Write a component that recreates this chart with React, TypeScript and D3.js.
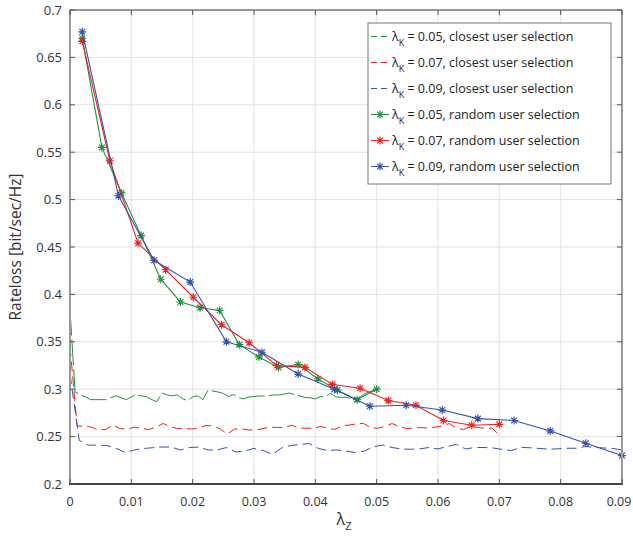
import React from 'react';
import * as d3 from 'd3';

// random user selection (solid, asterisk markers)
const xRand05 = [0.002, 0.0052, 0.0084, 0.0116, 0.0148, 0.018, 0.0212, 0.0244, 0.0276, 0.0308, 0.034, 0.0372, 0.0404, 0.0436, 0.0468, 0.05];
const yRand05 = [0.670, 0.555, 0.507, 0.462, 0.416, 0.392, 0.386, 0.383, 0.347, 0.334, 0.323, 0.326, 0.311, 0.299, 0.289, 0.300];
const xRand07 = [0.002, 0.0065, 0.0111, 0.0156, 0.0201, 0.0247, 0.0292, 0.0337, 0.0383, 0.0428, 0.0473, 0.0519, 0.0564, 0.0609, 0.0655, 0.07];
const yRand07 = [0.667, 0.541, 0.454, 0.426, 0.397, 0.368, 0.349, 0.325, 0.323, 0.305, 0.301, 0.288, 0.283, 0.267, 0.262, 0.263];
const xRand09 = [0.002, 0.0079, 0.0137, 0.0196, 0.0255, 0.0313, 0.0372, 0.0431, 0.0489, 0.0548, 0.0607, 0.0665, 0.0724, 0.0783, 0.0841, 0.09];
const yRand09 = [0.677, 0.504, 0.436, 0.413, 0.350, 0.339, 0.316, 0.300, 0.282, 0.283, 0.278, 0.269, 0.267, 0.256, 0.243, 0.230];

// closest user selection (dashed), 61 samples each from 0 to the max lambda_Z
const yClose05 = [
  0.384, 0.297, 0.294, 0.292, 0.289, 0.289, 0.289, 0.289, 0.291, 0.293, 0.291, 0.289, 0.292, 0.294, 0.293, 0.292,
  0.289, 0.287, 0.296, 0.294, 0.293, 0.294, 0.290, 0.288, 0.292, 0.293, 0.289, 0.299, 0.298, 0.297, 0.2955, 0.2923,
  0.2944, 0.291, 0.2897, 0.2918, 0.2923, 0.2928, 0.2928, 0.2934, 0.294, 0.294, 0.295, 0.296, 0.294, 0.2928, 0.2912,
  0.291, 0.2897, 0.2923, 0.2918, 0.296, 0.2918, 0.2915, 0.2915, 0.290, 0.2886, 0.2928, 0.296, 0.298, 0.300,
];
const yClose07 = [
  0.345, 0.261, 0.2612, 0.260, 0.257, 0.2575, 0.2622, 0.2585, 0.258, 0.260, 0.2585, 0.2575, 0.260, 0.2638, 0.2606, 0.2585,
  0.2585, 0.258, 0.259, 0.2617, 0.2612, 0.258, 0.2527, 0.258, 0.258, 0.257, 0.257, 0.2585, 0.260, 0.2596, 0.2596, 0.262,
  0.259, 0.2588, 0.2588, 0.2606, 0.259, 0.2575, 0.2612, 0.2622, 0.2633, 0.264, 0.2596, 0.2588, 0.2606, 0.2638, 0.2606,
  0.2585, 0.259, 0.2596, 0.259, 0.260, 0.2612, 0.2638, 0.259, 0.2575, 0.261, 0.2596, 0.2588, 0.2588, 0.2517,
];
const yClose09 = [
  0.316, 0.246, 0.241, 0.241, 0.2406, 0.2377, 0.2332, 0.2359, 0.2375, 0.2383, 0.239, 0.239, 0.2359, 0.2385, 0.239, 0.2359,
  0.2359, 0.2385, 0.2338, 0.2348, 0.2375, 0.2353, 0.2311, 0.238, 0.2406, 0.2417, 0.2427, 0.2375, 0.2353, 0.2359, 0.2348,
  0.2332, 0.2348, 0.2393, 0.2411, 0.2385, 0.237, 0.2366, 0.237, 0.2385, 0.237, 0.2396, 0.2417, 0.237, 0.2385, 0.2385,
  0.238, 0.2364, 0.2353, 0.2387, 0.2382, 0.2375, 0.2367, 0.2371, 0.2377, 0.2377, 0.2396, 0.2387, 0.238, 0.2375, 0.2359,
];
const closeMax = [0.05, 0.07, 0.09];

const xTicks = [0, 0.01, 0.02, 0.03, 0.04, 0.05, 0.06, 0.07, 0.08, 0.09];
const yTicks = [0.2, 0.25, 0.3, 0.35, 0.4, 0.45, 0.5, 0.55, 0.6, 0.65, 0.7];
const lambdaK = ['0.05', '0.07', '0.09'];

const GREEN = '#23913f';
const RED = '#ee2222';
const BLUE = '#3553ad';
const FONT = "'Open Sans', sans-serif";

const W = 633, H = 539;
const m = { left: 70, right: 622, top: 10, bottom: 484 };

function Asterisk({ x, y, color }: { x: number; y: number; color: string }) {
  const r = 4, d = r * 0.72;
  return (
    <path
      d={`M${x - r},${y}H${x + r}M${x},${y - r}V${y + r}M${x - d},${y - d}L${x + d},${y + d}M${x - d},${y + d}L${x + d},${y - d}`}
      stroke={color}
      strokeWidth={1.2}
      fill="none"
    />
  );
}

export default function App() {
  const x = d3.scaleLinear().domain([0, 0.09]).range([m.left, m.right]);
  const y = d3.scaleLinear().domain([0.2, 0.7]).range([m.bottom, m.top]);
  const line = d3.line<[number, number]>().x(d => x(d[0])).y(d => y(d[1]));

  const dashed = [yClose05, yClose07, yClose09].map((vals, s) =>
    vals.map((v, i) => [(i * closeMax[s]) / (vals.length - 1), v] as [number, number])
  );
  const solid = [
    d3.zip(xRand05, yRand05) as [number, number][],
    d3.zip(xRand07, yRand07) as [number, number][],
    d3.zip(xRand09, yRand09) as [number, number][],
  ];
  const colors = [GREEN, RED, BLUE];
  const dashes = ['26,4', '10,5', '10,5'];

  const legX = 368, legY = 23, legW = 243, legH = 161, rowH = 26;

  return (
    <svg width={W} height={H} style={{ position: 'absolute', left: 0, top: 0, background: '#fff' }} fontFamily={FONT}>
      <rect x={m.left} y={m.top} width={m.right - m.left} height={m.bottom - m.top} fill="#fff" />
      {/* grid */}
      {xTicks.map(t => (
        <line key={'gx' + t} x1={x(t)} x2={x(t)} y1={m.top} y2={m.bottom} stroke="#e3e3e3" strokeWidth={1} />
      ))}
      {yTicks.map(t => (
        <line key={'gy' + t} x1={m.left} x2={m.right} y1={y(t)} y2={y(t)} stroke="#e3e3e3" strokeWidth={1} />
      ))}

      {/* dashed: closest user selection */}
      {dashed.map((pts, s) => (
        <path key={'d' + s} d={line(pts) || ''} fill="none" stroke={colors[s]} strokeWidth={1} strokeDasharray={dashes[s]} />
      ))}
      {/* solid: random user selection */}
      {solid.map((pts, s) => (
        <g key={'s' + s}>
          <path d={line(pts) || ''} fill="none" stroke={colors[s]} strokeWidth={1.1} />
          {pts.map((p, i) => (
            <Asterisk key={i} x={x(p[0])} y={y(p[1])} color={colors[s]} />
          ))}
        </g>
      ))}

      {/* axes box */}
      <line x1={m.left} x2={m.left} y1={m.top} y2={m.bottom} stroke="#9a9a9a" strokeWidth={2} />
      <line x1={m.right} x2={m.right} y1={m.top} y2={m.bottom} stroke="#9a9a9a" strokeWidth={2} />
      <line x1={m.left} x2={m.right} y1={m.top} y2={m.top} stroke="#9a9a9a" strokeWidth={2} />
      <line x1={m.left - 1} x2={m.right + 1} y1={m.bottom} y2={m.bottom} stroke="#444" strokeWidth={2} />
      {xTicks.map(t => (
        <g key={'tx' + t} stroke="#555" strokeWidth={1}>
          <line x1={x(t)} x2={x(t)} y1={m.bottom} y2={m.bottom - 5} />
          <line x1={x(t)} x2={x(t)} y1={m.top} y2={m.top + 5} />
        </g>
      ))}
      {yTicks.map(t => (
        <g key={'ty' + t} stroke="#555" strokeWidth={1}>
          <line x1={m.left} x2={m.left + 5} y1={y(t)} y2={y(t)} />
          <line x1={m.right} x2={m.right - 5} y1={y(t)} y2={y(t)} />
        </g>
      ))}

      {/* tick labels */}
      {xTicks.map((t, i) => (
        <text key={'lx' + t} x={x(t) - (i === xTicks.length - 1 ? 3 : 0)} y={m.bottom + 22} textAnchor="middle"
          fontSize={12.5} fill="#333">
          {d3.format('')(t)}
        </text>
      ))}
      {yTicks.map(t => (
        <text key={'ly' + t} x={m.left - 8} y={y(t) + 4.5} textAnchor="end" fontSize={13} fill="#333">
          {d3.format('')(t)}
        </text>
      ))}

      {/* axis titles */}
      <text x={344} y={525} textAnchor="middle" fontSize={16} fill="#333">
        λ<tspan fontSize={11} dy={5}>Z</tspan>
      </text>
      <text transform="translate(21,247) rotate(-90)" textAnchor="middle" fontSize={15.5} fill="#333">
        Rateloss [bit/sec/Hz]
      </text>

      {/* legend */}
      <rect x={legX} y={legY} width={legW} height={legH} fill="#fff" stroke="#777" strokeWidth={1} />
      {[0, 1, 2, 3, 4, 5].map(i => {
        const s = i % 3;
        const cy = legY + 13.5 + i * rowH;
        const isSolid = i >= 3;
        return (
          <g key={'lg' + i}>
            <line x1={legX + 3} x2={legX + 21} y1={cy} y2={cy} stroke={colors[s]} strokeWidth={1}
              strokeDasharray={isSolid ? undefined : '6,4'} />
            {isSolid && <Asterisk x={legX + 12} y={cy} color={colors[s]} />}
            <text x={legX + 24} y={cy + 4} fontSize={12.5} fill="#222">
              λ<tspan fontSize={9} dy={5}>K</tspan>
              <tspan dy={-5}>{`  = ${lambdaK[s]}, ${isSolid ? 'random' : 'closest'} user selection`}</tspan>
            </text>
          </g>
        );
      })}
    </svg>
  );
}
